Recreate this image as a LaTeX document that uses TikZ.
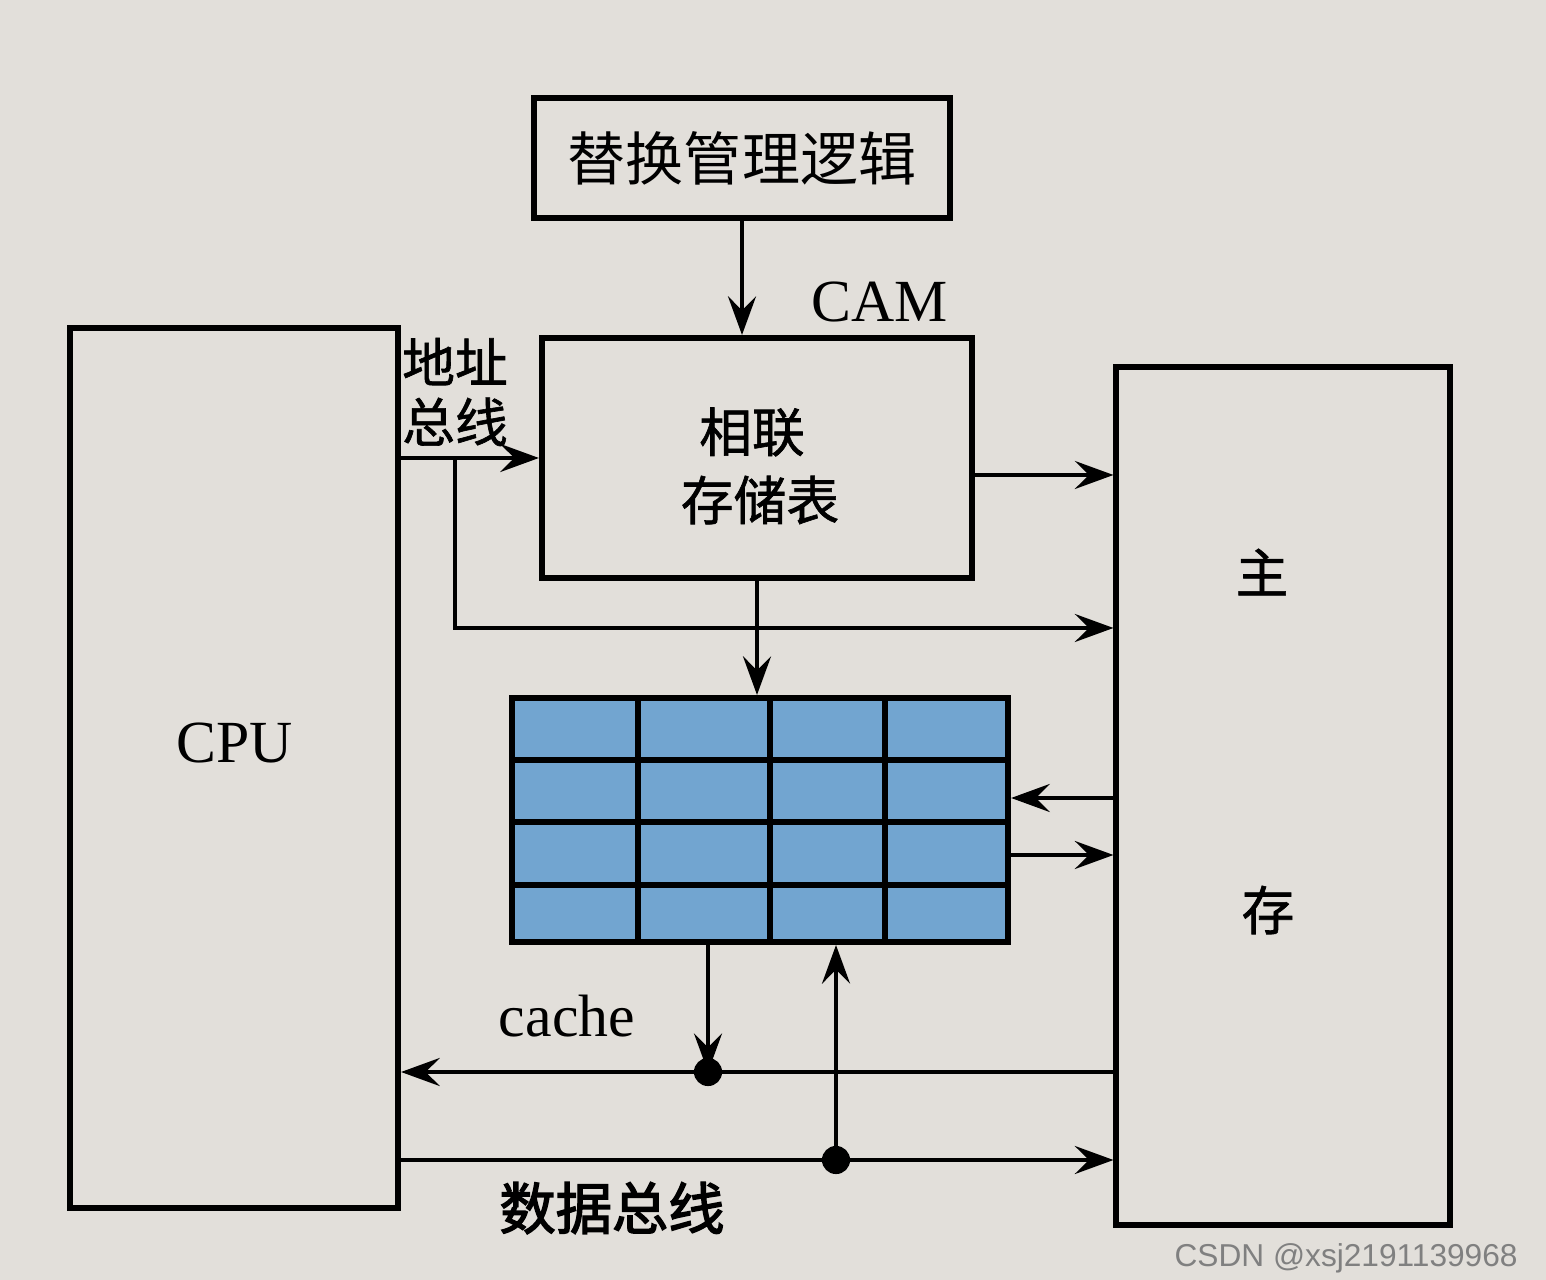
\documentclass[tikz,border=0pt]{standalone}
\usepackage{fontspec}
\setmainfont{Liberation Serif}
\newfontfamily\cjk{Noto Sans CJK SC}
\newfontfamily\cjkm[FakeBold=1.2]{Noto Sans CJK SC}
\newfontfamily\cjkb[FakeBold=2.5]{Noto Sans CJK SC}
\newfontfamily\wmfont{Liberation Sans}
\usepackage{tikz}
\usetikzlibrary{calc, arrows.meta}
\definecolor{paper}{RGB}{226,223,218}
\definecolor{cacheblue}{RGB}{114,165,208}
\tikzset{
	blockbox/.style={draw, line width=1.7pt, inner sep=0pt},
	bus/.style={line width=0.9pt},
	busarrow/.style={bus, -{Stealth[length=11pt, width=8pt, inset=4pt]}},
	cnlabel/.style={font=\cjk\fontsize{16pt}{19pt}\selectfont, align=center},
	cnbold/.style={font=\cjkm\fontsize{15pt}{18pt}\selectfont, align=center},
	ltlabel/.style={font=\fontsize{17pt}{20pt}\selectfont}
}
\begin{document}
\begin{tikzpicture}[x=0.01cm, y=-0.01cm]
			\useasboundingbox (0,0) rectangle (1546,1280);
			\fill[paper] (0,0) rectangle (1546,1280);
			\node[blockbox, minimum width=4.15cm, minimum height=1.2cm, cnlabel, font=\cjk\fontsize{16.5pt}{19pt}\selectfont] (repl) at (742,158) {替换管理逻辑};
			\node[blockbox, minimum width=4.3cm, minimum height=2.4cm] (cam) at (757,458) {};
			\node[blockbox, minimum width=3.28cm, minimum height=8.8cm] (cpu) at (234,768) {};
			\node[blockbox, minimum width=3.33cm, minimum height=8.57cm] (mem) at (1283,796) {};
			\node[blockbox, fill=cacheblue, minimum width=4.96cm, minimum height=2.44cm] (cache) at (760,820) {};
			\foreach \gx in {638,770,885}
				\draw[line width=1.5pt] (\gx,698) -- (\gx,942);
			\foreach \gy in {760,822,885}
				\draw[line width=1.5pt] (512,\gy) -- (1008,\gy);
			\node[cnbold] (camtxt1) at (752,432) {相联};
			\node[cnbold] (camtxt2) at (760,500) {存储表};
			\node[ltlabel] (camlbl) at (880,302) {CAM};
			\node[ltlabel] (cpulbl) at (235,743) {CPU};
			\node[cnbold] (mem1) at (1262,572) {主};
			\node[cnbold] (mem2) at (1268,910) {存};
			\node[cnbold, font=\cjkm\fontsize{15pt}{17pt}\selectfont] (addrlbl) at (455,392) {地址\\总线};
			\node[ltlabel] (cachelbl) at (567,1016) {cache};
			\node[cnbold, font=\cjkb\fontsize{16pt}{19pt}\selectfont] (datalbl) at (612,1208) {数据总线};
			\node[font=\wmfont\fontsize{9pt}{10pt}\selectfont, text=gray, anchor=east] (wm) at (1530,1258) {CSDN @xsj2191139968};
			\coordinate (br) at (455,458);
			\coordinate (d1) at (708,1072);
			\coordinate (d2) at (836,1160);
			\draw[busarrow] (repl.south) -- (repl.south |- cam.north);
			\draw[busarrow] (cpu.east |- cam.west) -- (cam.west);
			\draw[busarrow] (br) |- (mem.west |- 0,628);
			\draw[busarrow] (cam.east |- 0,475) -- (mem.west |- 0,475);
			\draw[busarrow] (cam.south) -- (cam.south |- cache.north);
			\draw[busarrow] (mem.west |- 0,798) -- (cache.east |- 0,798);
			\draw[busarrow] (cache.east |- 0,855) -- (mem.west |- 0,855);
			\draw[busarrow] (cache.south -| d1) -- (d1);
			\draw[busarrow] (mem.west |- d1) -- (cpu.east |- d1);
			\draw[busarrow] (cpu.east |- d2) -- (mem.west |- d2);
			\draw[busarrow] (d2) -- (cache.south -| d2);
			\fill (d1) circle (4pt);
			\fill (d2) circle (4pt);
		\end{tikzpicture}
\end{document}
